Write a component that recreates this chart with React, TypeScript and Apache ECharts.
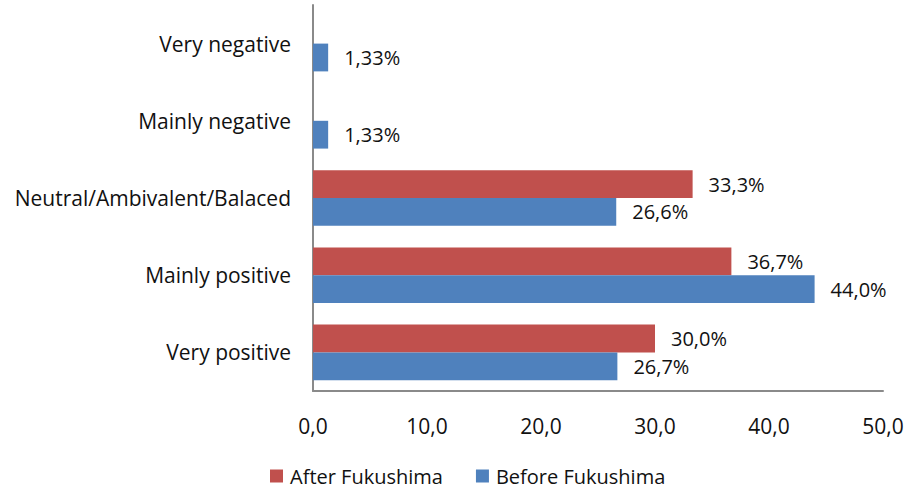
import React, { useEffect, useRef } from "react";
import * as echarts from "echarts";

const categories = [
  "Very positive",
  "Mainly positive",
  "Neutral/Ambivalent/Balaced",
  "Mainly negative",
  "Very negative",
];
const afterFukushima: (number | null)[] = [30.0, 36.7, 33.3, null, null];
const beforeFukushima: number[] = [26.7, 44.0, 26.6, 1.33, 1.33];
const xTicks = { min: 0, max: 50, interval: 10 };
const seriesNames = ["After Fukushima", "Before Fukushima"];
const colors = ["#C0504D", "#4F81BD"];

const FONT = "Open Sans";

const fmt = (v: number) => (v < 10 ? v.toFixed(2) : v.toFixed(1)).replace(".", ",") + "%";

export default function App() {
  const ref = useRef<HTMLDivElement>(null);
  useEffect(() => {
    if (!ref.current) return;
    const chart = echarts.init(ref.current, undefined, { renderer: "svg" });
    const labelCfg = {
      show: true,
      position: "right" as const,
      distance: 16,
      color: "#111",
      fontFamily: FONT,
      fontSize: 20,
      formatter: (p: any) => (p.value == null ? "" : fmt(p.value)),
    };
    chart.setOption({
      animation: false,
      backgroundColor: "#fff",
      textStyle: { fontFamily: FONT },
      grid: { left: 313, top: 5, right: 27, bottom: 98, containLabel: false },
      legend: {
        top: 461,
        left: 265,
        itemWidth: 13,
        itemHeight: 13,
        itemGap: 33,
        icon: "rect",
        data: seriesNames,
        textStyle: { fontFamily: FONT, fontSize: 20, color: "#111", padding: [0, 0, 0, 2] },
      },
      xAxis: {
        type: "value",
        min: xTicks.min,
        max: xTicks.max,
        interval: xTicks.interval,
        splitLine: { show: false },
        axisLine: { show: true, lineStyle: { color: "#8a8a8a", width: 2 } },
        axisTick: { show: false },
        axisLabel: {
          margin: 24,
          color: "#111",
          fontFamily: FONT,
          fontSize: 21,
          formatter: (v: number) => v.toFixed(1).replace(".", ","),
        },
      },
      yAxis: {
        type: "category",
        data: categories,
        axisLine: { show: true, lineStyle: { color: "#8a8a8a", width: 2 } },
        axisTick: { show: false },
        axisLabel: { margin: 22, color: "#111", fontFamily: FONT, fontSize: 21 },
      },
      series: [
        {
          name: seriesNames[0],
          type: "bar",
          data: afterFukushima,
          itemStyle: { color: colors[0] },
          barGap: "0%",
          barCategoryGap: "28%",
          label: labelCfg,
        },
        {
          name: seriesNames[1],
          type: "bar",
          data: beforeFukushima,
          itemStyle: { color: colors[1] },
          barGap: "0%",
          barCategoryGap: "28%",
          label: labelCfg,
        },
      ],
    });
    return () => chart.dispose();
  }, []);
  return <div ref={ref} style={{ width: 910, height: 489, position: "absolute", left: 0, top: 0 }} />;
}
